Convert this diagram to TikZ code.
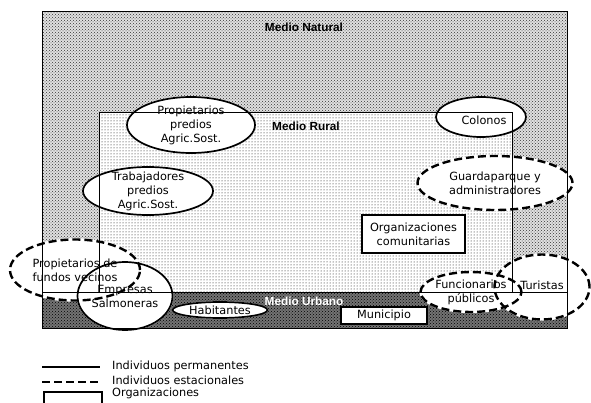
\documentclass[tikz,border=0pt]{standalone}
\usepackage{fontspec}
\setmainfont{DejaVu Sans}
\newfontfamily\mediofont{Liberation Sans}
\usetikzlibrary{shapes.geometric,patterns,backgrounds,calc}

\begin{document}
\begin{tikzpicture}[x=1pt, y=-1pt,
    font=\fontsize{11.3}{14}\selectfont,
    actor/.style={draw, ellipse, line width=1.7pt, inner sep=0pt},
    permanente/.style={actor},
    estacional/.style={actor, line width=2.4pt, dash pattern=on 8pt off 4pt},
    organizacion/.style={draw, rectangle, fill=white, line width=1.7pt, inner sep=0pt, align=center},
    medio/.style={font=\mediofont\bfseries\fontsize{11.8}{14}\selectfont},
    limite/.style={line width=1pt},
    leyenda/.style={anchor=west, inner sep=0pt},
    every label/.style={align=center, inner sep=0pt}]
  \useasboundingbox (0,0) rectangle (591,403);
  % Actores permanentes y estacionales
  \node[permanente, minimum width=128pt, minimum height=56pt, label={center:Propietarios\\predios\\Agric.Sost.}] (propPredios) at (191,125) {};
  \node[permanente, minimum width=130pt, minimum height=48pt, label={center:Trabajadores\\predios\\Agric.Sost.}] (trabPredios) at (148,191) {};
  \node[permanente, minimum width=90pt, minimum height=40pt, label={[xshift=3pt, yshift=-3pt]center:Colonos}] (colonos) at (481,117) {};
  \node[estacional, minimum width=155pt, minimum height=54pt, label={center:Guardaparque y\\administradores}] (guardaparque) at (495,183) {};
  \node[estacional, minimum width=130pt, minimum height=61pt, label={[align=left]center:Propietarios de\\fundos vecinos}] (fundos) at (75,270) {};
  \node[permanente, minimum width=95pt, minimum height=68pt, label={center:Empresas\\Salmoneras}] (empresas) at (125,296) {};
  \node[permanente, minimum width=95pt, minimum height=16pt, label={center:Habitantes}] (habitantes) at (220,310) {};
  \node[estacional, minimum width=101pt, minimum height=40pt, label={center:Funcionarios\\públicos}] (funcionarios) at (471,292) {};
  \node[estacional, minimum width=95pt, minimum height=65pt, label={[yshift=2pt]center:Turistas}] (turistas) at (542,287) {};
  % Organizaciones
  \node[organizacion, minimum width=103pt, minimum height=38pt] (comunitarias) at (413.5,234) {Organizaciones\\comunitarias};
  \node[organizacion, minimum width=86pt, minimum height=17pt] (municipio) at (384,315.5) {Municipio};
  % Medios
  \begin{scope}[on background layer]
    \fill[black!12] (42,12) rectangle (567,328);
    \fill[pattern=crosshatch dots, pattern color=black!80] (42,12) rectangle (567,328);
    \fill[white] (99,113) rectangle (512,292);
    \fill[pattern=dots] (99,113) rectangle (512,292);
    \fill[black!55] (42,292) rectangle (567,328);
    \fill[pattern=crosshatch dots] (42,292) rectangle (567,328);
    \foreach \nodo in {propPredios,trabPredios,colonos,guardaparque,fundos,empresas,habitantes,funcionarios,turistas}
      \fill[white] let \p0=(\nodo.center), \p1=(\nodo.east), \p2=(\nodo.north) in (\p0) ellipse [x radius={\x1-\x0}, y radius={\y2-\y0}];
  \end{scope}
  \draw[limite] (42,12) rectangle (567,328);
  \draw[limite] (99,292) |- (512,113) -- (512,292);
  \draw[limite] (42,292) -- (567,292);
  \node[medio] (natural) at (304,27) {Medio Natural};
  \node[medio] (rural) at (306,126) {Medio Rural};
  \node[medio, text=white] (urbano) at (304,301) {Medio Urbano};
  % Leyenda
  \coordinate (perm1) at (42,367);
  \coordinate (perm2) at (100,367);
  \coordinate (est1) at (42,382);
  \coordinate (est2) at (100,382);
  \draw[line width=1.7pt] (perm1) -- (perm2);
  \draw[line width=2.4pt, dash pattern=on 8pt off 4pt] (est1) -- (est2);
  \node[organizacion, minimum width=58pt, minimum height=24pt, anchor=north west] (legOrg) at (43,391) {};
  \node[leyenda] (legPerm) at (112,366) {Individuos permanentes};
  \node[leyenda] (legEst) at (112,380) {Individuos estacionales};
  \node[leyenda] (legOrgTxt) at (112,393) {Organizaciones};
\end{tikzpicture}
\end{document}
